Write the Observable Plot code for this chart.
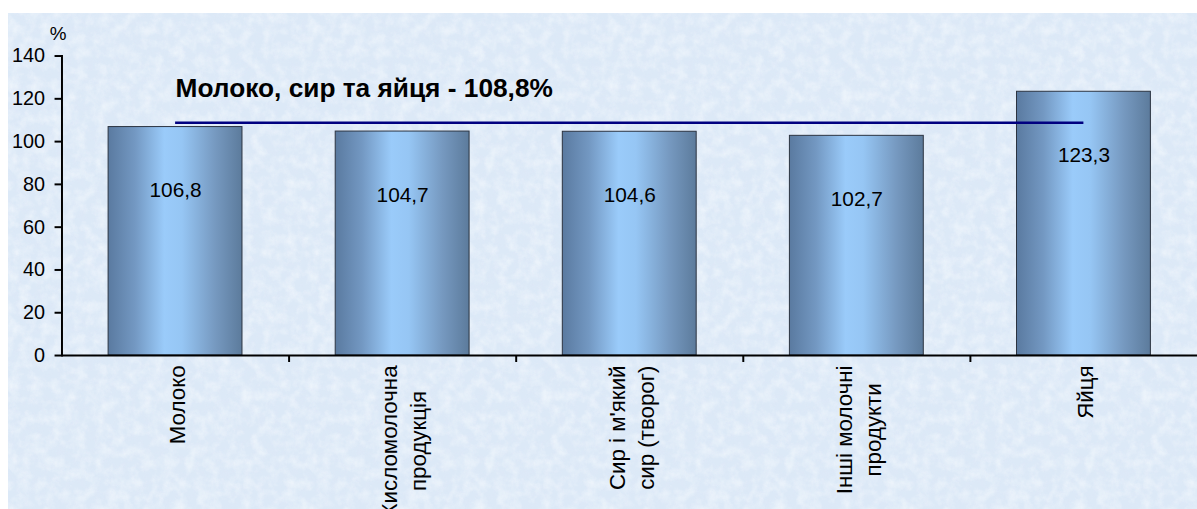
<!DOCTYPE html>
<html><head><meta charset="utf-8">
<script src="https://cdn.jsdelivr.net/npm/d3@7"></script>
<script src="https://cdn.jsdelivr.net/npm/@observablehq/plot@0.6"></script>
<style>
body{margin:0;background:#fff;}
#wrap{position:relative;width:1197px;height:509px;overflow:hidden;}
#bg{position:absolute;left:8px;top:13px;right:0;bottom:0;background:#dae8f7;}
#chart{position:absolute;left:0;top:0;}
</style></head>
<body><div id="wrap"><div id="bg"></div><div id="chart"></div></div>
<script>
const categories = ["Молоко", "Кисломолочна\nпродукція", "Сир і м'який\nсир (творог)", "Інші молочні\nпродукти", "Яйця"];
const values = [106.8, 104.7, 104.6, 102.7, 123.3];
const average = 108.8;
const averageLabel = "Молоко, сир та яйця - 108,8%";
const yTicks = [0, 20, 40, 60, 80, 100, 120, 140];
const unitLabel = "%";

// background texture
const tex = `<svg xmlns='http://www.w3.org/2000/svg' width='300' height='300'>
<filter id='a' x='0' y='0' width='100%' height='100%'><feTurbulence type='fractalNoise' baseFrequency='0.09' numOctaves='4' seed='3' stitchTiles='stitch'/><feColorMatrix type='matrix' values='0 0 0 0 0.97 0 0 0 0 0.99 0 0 0 0 1 1.8 0 0 0 -0.7'/></filter>
<filter id='b' x='0' y='0' width='100%' height='100%'><feTurbulence type='fractalNoise' baseFrequency='0.14' numOctaves='3' seed='7' stitchTiles='stitch'/><feColorMatrix type='matrix' values='0 0 0 0 0.74 0 0 0 0 0.8 0 0 0 0 0.93 0 1.8 0 0 -0.75'/></filter>
<rect width='100%' height='100%' fill='#dce9f7'/>
<rect width='100%' height='100%' filter='url(#b)' opacity='0.45'/>
<rect width='100%' height='100%' filter='url(#a)' opacity='0.55'/>
</svg>`;
document.getElementById("bg").style.background = `url("data:image/svg+xml,${encodeURIComponent(tex)}")`;

const W = 1207, ML = 62, MT = 56, MB = 151;
const padInner = 0.41;
const step = (W - ML) / categories.length;
const halfBand = step * (1 - padInner) / 2;
const data = categories.map((c, i) => ({category: c, value: values[i]}));
const fmt = v => d3.format(".1f")(v).replace(".", ",");
const font = "'Liberation Sans', Arial, sans-serif";

const defs = () => {
  const d = d3.create("svg:defs");
  const g = d.append("linearGradient").attr("id", "barGrad")
    .attr("x1", 0).attr("x2", 1).attr("y1", 0).attr("y2", 0);
  [[0, "#5a7aa0"], [0.2, "#7398c2"], [0.42, "#9acbfa"], [0.55, "#96c6f4"], [0.8, "#7699c0"], [1, "#5c7b9c"]]
    .forEach(([o, c]) => g.append("stop").attr("offset", o).attr("stop-color", c));
  return d.node();
};

const chart = Plot.plot({
  width: W, height: 509,
  marginLeft: ML, marginRight: 0, marginTop: MT, marginBottom: MB,
  style: {background: "transparent", fontFamily: font, color: "#000", overflow: "visible"},
  x: {domain: categories, paddingInner: padInner, paddingOuter: padInner / 2, axis: null},
  y: {domain: [0, 140], axis: null},
  marks: [
    defs,
    Plot.barY(data, {x: "category", y: "value", fill: "url(#barGrad)", stroke: "#2b3340", strokeWidth: 1}),
    Plot.ruleY([0], {stroke: "#000", strokeWidth: 2}),
    Plot.frame({anchor: "left", stroke: "#000", strokeWidth: 2}),
    Plot.axisY(yTicks, {tickSize: 7, tickPadding: 10, fontSize: 20, strokeWidth: 2, label: null}),
    Plot.axisX(categories.slice(1), {tickSize: 7, tickFormat: () => "", dx: -step / 2, strokeWidth: 2, label: null}),
    Plot.text(data, {x: "category", y: "value", text: d => fmt(d.value), dy: 64, fontSize: 21}),
    Plot.text(categories, {x: d => d, frameAnchor: "bottom", dy: 10, rotate: -90, textAnchor: "end", lineAnchor: "middle", lineHeight: 1.3, fontSize: 22.5}),
    Plot.ruleY([average], {x1: () => categories[0], x2: () => categories[categories.length - 1], insetLeft: halfBand, insetRight: halfBand, stroke: "#000080", strokeWidth: 2.5}),
    Plot.text([averageLabel], {x: () => categories[0], y: () => average, dy: -34, textAnchor: "start", fontWeight: "bold", fontSize: 26.5}),
    Plot.text([unitLabel], {frameAnchor: "top-left", dy: -22, dx: -4, textAnchor: "middle", lineAnchor: "middle", fontSize: 19})
  ]
});
document.getElementById("chart").appendChild(chart);

// center the lines of multi-line category labels within their block
chart.querySelectorAll("text").forEach(t => {
  const spans = t.querySelectorAll("tspan");
  if (spans.length < 2) return;
  const lens = Array.from(spans, s => s.getComputedTextLength());
  const m = Math.max(...lens);
  spans.forEach((s, i) => s.setAttribute("x", -(m - lens[i]) / 2));
});
</script>
</body></html>
